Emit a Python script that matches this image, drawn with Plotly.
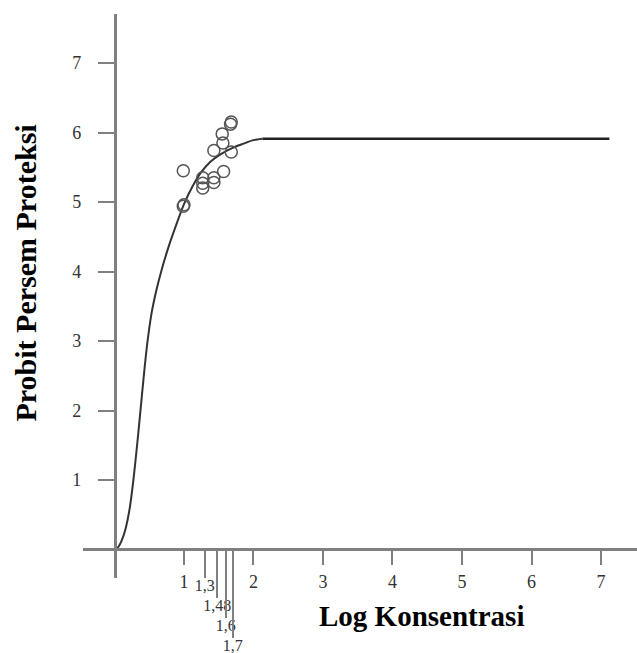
import plotly.graph_objects as go

# Data
curve_x = [0.0, 0.05, 0.1, 0.16, 0.22, 0.27, 0.32, 0.37, 0.42, 0.47, 0.53, 0.6, 0.68,
           0.77, 0.87, 1.0, 1.12, 1.24, 1.38, 1.53, 1.7, 1.86, 2.0, 2.13]
curve_y = [0.0, 0.03, 0.12, 0.3, 0.6, 0.98, 1.45, 1.96, 2.48, 2.95, 3.38, 3.72, 4.03,
           4.33, 4.62, 4.97, 5.22, 5.42, 5.58, 5.69, 5.78, 5.84, 5.89, 5.91]
plateau_x = [2.13, 7.12]
plateau_y = [5.91, 5.91]

obs_x = [0.99, 1.0, 0.99, 1.27, 1.27, 1.27, 1.43, 1.43, 1.57, 1.43, 1.56, 1.55, 1.68, 1.67, 1.68]
obs_y = [4.94, 4.96, 5.45, 5.35, 5.27, 5.2, 5.35, 5.28, 5.44, 5.74, 5.85, 5.98, 5.72, 6.12, 6.15]

main_ticks = [1, 2, 3, 4, 5, 6, 7]
y_ticks = [1, 2, 3, 4, 5, 6, 7]
extra_tick_vals = [1.3, 1.48, 1.6, 1.7]
extra_tick_text = ["1,3", "1,48", "1,6", "1,7"]
extra_tick_len = [28, 48, 68, 88]

x_title = "Log Konsentrasi"
y_title = "Probit Persem Proteksi"

W, H = 637, 653
x_range = [-0.453, 7.518]
y_range = [-0.41, 7.705]
x_dom = [83 / W, 1.0]
y_dom = [(H - 578) / H, (H - 14) / H]
x_axis_pos = (H - 548.5) / H
y_axis_pos = 114.5 / W

axis_col = "#808080"
serif = "Liberation Serif, Times New Roman, serif"

fig = go.Figure()
fig.add_trace(go.Scatter(x=curve_x, y=curve_y, mode="lines",
                         line=dict(color="#333333", width=2, shape="spline", smoothing=0.8),
                         hoverinfo="skip"))
fig.add_trace(go.Scatter(x=plateau_x, y=plateau_y, mode="lines",
                         line=dict(color="#222222", width=2.5), hoverinfo="skip"))
fig.add_trace(go.Scatter(x=obs_x, y=obs_y, mode="markers",
                         marker=dict(symbol="circle-open", size=12, color="#555555",
                                     line=dict(width=1.5, color="#555555"))))

layout = dict(
    width=W, height=H, showlegend=False,
    margin=dict(l=0, r=0, t=0, b=0, pad=0),
    paper_bgcolor="white", plot_bgcolor="white",
    xaxis=dict(domain=x_dom, range=x_range, anchor="free", position=x_axis_pos,
               automargin=False,
               showgrid=False, zeroline=False, showline=True, linecolor=axis_col, linewidth=2.5,
               tickmode="array", tickvals=main_ticks, ticks="outside", ticklen=15,
               tickwidth=2, tickcolor=axis_col, ticklabelstandoff=1,
               tickfont=dict(family=serif, size=18, color="#333333")),
    yaxis=dict(domain=y_dom, range=y_range, anchor="free", position=y_axis_pos,
               automargin=False,
               showgrid=False, zeroline=False, showline=True, linecolor=axis_col, linewidth=2.5,
               tickmode="array", tickvals=y_ticks, ticks="outside", ticklen=16,
               tickwidth=2, tickcolor=axis_col, ticklabelstandoff=13,
               tickfont=dict(family=serif, size=18, color="#333333")),
)
for i, (v, t, L) in enumerate(zip(extra_tick_vals, extra_tick_text, extra_tick_len)):
    name = "xaxis%d" % (i + 2)
    layout[name] = dict(overlaying="x", range=x_range, anchor="free", position=x_axis_pos,
                        automargin=False,
                        showgrid=False, zeroline=False, showline=False,
                        tickmode="array", tickvals=[v], ticktext=[t],
                        ticks="outside", ticklen=L, tickwidth=2, tickcolor=axis_col,
                        ticklabelstandoff=-6,
                        tickfont=dict(family=serif, size=16, color="#333333"))
    fig.add_trace(go.Scatter(x=[v], y=[None], xaxis="x%d" % (i + 2), yaxis="y",
                             mode="markers", showlegend=False, hoverinfo="skip"))

fig.update_layout(**layout)
fig.add_annotation(x=421 / W, y=(H - 634) / H, xref="paper", yref="paper",
                   text="<b>%s</b>" % x_title, showarrow=False,
                   font=dict(family=serif, size=29, color="black"))
fig.add_annotation(x=6 / W, y=(H - 273) / H, xref="paper", yref="paper",
                   text="<b>%s</b>" % y_title, showarrow=False, textangle=-90,
                   font=dict(family=serif, size=30, color="black"))

fig.write_html("out.html", config={"displayModeBar": False},
               post_script="document.body.style.margin='0';document.body.style.overflow='hidden';")
